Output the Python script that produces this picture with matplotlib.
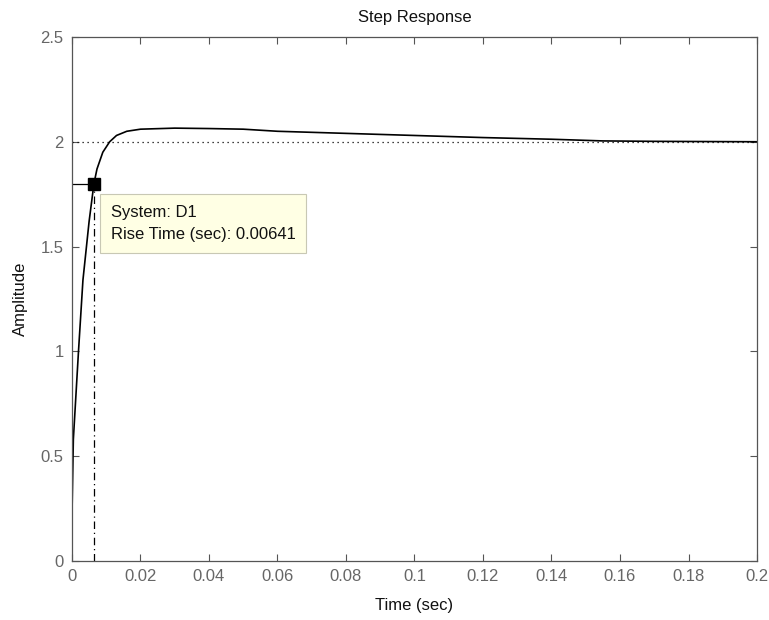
import matplotlib.pyplot as plt
import numpy as np

plt.rcParams['font.family'] = ['Liberation Sans', 'DejaVu Sans']

# step response samples (time in sec, amplitude)
t = [0.0, 0.0004, 0.0019, 0.0032, 0.0050, 0.00641, 0.0073, 0.0090, 0.011,
     0.013, 0.016, 0.020, 0.030, 0.040, 0.050, 0.060, 0.080, 0.100, 0.120,
     0.140, 0.155, 0.170, 0.200]
amp = [0.22, 0.58, 1.0, 1.34, 1.62, 1.80, 1.87, 1.95, 2.0,
       2.03, 2.05, 2.06, 2.065, 2.063, 2.06, 2.05, 2.04, 2.03, 2.02,
       2.012, 2.004, 2.002, 2.0]

final_value = 2.0
rise_time = 0.00641
rise_amp = 1.8
system_name = "D1"

fig = plt.figure(figsize=(7.69, 6.2), dpi=100)
ax = fig.add_axes([0.0936, 0.0952, 0.8908, 0.8452])

ax.plot(t, amp, color='black', lw=1.2)
ax.axhline(final_value, color='black', lw=0.9, ls=(0, (1, 3)))
ax.plot([0, rise_time], [rise_amp, rise_amp], color='black', lw=0.9)
ax.plot([rise_time, rise_time], [0, rise_amp], color='black', lw=0.9,
        ls=(0, (6, 3, 1, 3)))
ax.plot(rise_time, rise_amp, 's', color='black', ms=8.5)

# data tip next to the rise time marker
ax.annotate(f"System: {system_name}\nRise Time (sec): {rise_time}",
            xy=(rise_time, rise_amp), xytext=(12, -15),
            textcoords='offset points', ha='left', va='top', fontsize=12,
            color='#111111', linespacing=1.65,
            bbox=dict(boxstyle='square,pad=0.62', fc='#ffffe4', ec='#c8c8b4', lw=0.8))

ax.set_xlim(0, 0.2)
ax.set_ylim(0, 2.5)
ax.set_xticks(np.arange(0, 0.201, 0.02))
ax.set_xticklabels(['0', '0.02', '0.04', '0.06', '0.08', '0.1', '0.12',
                    '0.14', '0.16', '0.18', '0.2'])
ax.set_yticks(np.arange(0, 2.51, 0.5))
ax.set_yticklabels(['0', '0.5', '1', '1.5', '2', '2.5'])
ax.tick_params(direction='in', top=True, right=True, length=5, width=0.8,
               labelsize=12, colors='#555555', labelcolor='#666666', pad=6)
for s in ax.spines.values():
    s.set_color('#555555')
    s.set_linewidth(0.9)

ax.set_xlabel('Time (sec)', fontsize=12, color='#111111', labelpad=10)
ax.set_ylabel('Amplitude', fontsize=12, color='#111111', labelpad=9)
ax.set_title('Step Response', fontsize=12, color='#111111', pad=10.5)

fig.savefig('out.png', dpi=100)
